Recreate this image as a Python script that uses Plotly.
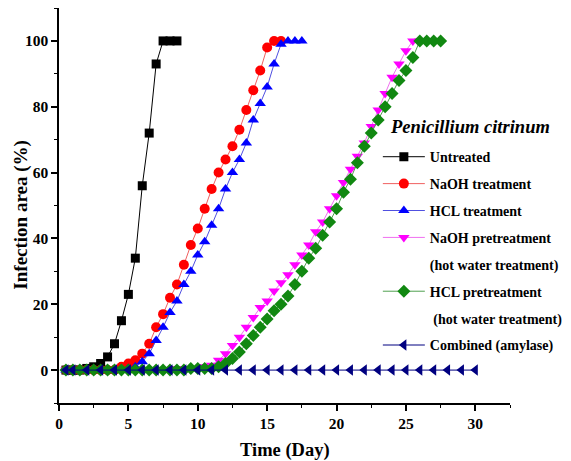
import plotly.graph_objects as go

# ---- data ----
untreated_x = [0.5, 1, 1.5, 2, 2.5, 3, 3.5, 4, 4.5, 5, 5.5, 6, 6.5, 7, 7.5, 8, 8.5]
untreated_y = [0, 0, 0, 0.5, 1, 2, 4, 8, 15, 23, 34, 56, 72, 93, 100, 100, 100]

naoh_x = [0.5, 1, 1.5, 2, 2.5, 3, 3.5, 4, 4.5, 5, 5.5, 6, 6.5, 7, 7.5, 8, 8.5, 9, 9.5, 10,
          10.5, 11, 11.5, 12, 12.5, 13, 13.5, 14, 14.5, 15, 15.5, 16]
naoh_y = [0, 0, 0, 0, 0, 0, 0, 0, 1, 2, 3, 5, 8, 13, 17, 22, 26, 32, 38, 43,
          49, 55, 60, 64, 68, 73, 79, 85, 91, 98, 100, 100]

hcl_x = [0.5, 1, 1.5, 2, 2.5, 3, 3.5, 4, 4.5, 5, 5.5, 6, 6.5, 7, 7.5, 8, 8.5, 9, 9.5, 10,
         10.5, 11, 11.5, 12, 12.5, 13, 13.5, 14, 14.5, 15, 15.5, 16, 16.5, 17, 17.5]
hcl_y = [0, 0, 0, 0, 0, 0, 0, 0, 0, 0.5, 1, 2.5, 5, 9, 13, 17.5, 21, 26, 30, 35,
         39, 44, 49, 55, 60, 64, 69, 76, 81, 86, 93, 99, 100, 100, 100]

naoh_pre_x = [0.5, 1, 1.5, 2, 2.5, 3, 3.5, 4, 4.5, 5, 5.5, 6, 6.5, 7, 7.5, 8, 8.5, 9, 9.5, 10,
              10.5, 11, 11.5, 12, 12.5, 13, 13.5, 14, 14.5, 15, 15.5, 16, 16.5, 17, 17.5, 18,
              18.5, 19, 19.5, 20, 20.5, 21, 21.5, 22, 22.5, 23, 23.5, 24, 24.5, 25, 25.5, 26]
naoh_pre_y = [0, 0, 0, 0, 0, 0, 0, 0, 0, 0, 0, 0, 0, 0, 0, 0, 0.5, 0.5, 0.5, 0.5,
              1, 1.5, 3, 5, 7.5, 10, 13, 16, 19, 21, 24, 26.5, 29, 32, 35, 38,
              42, 45, 49, 53, 57, 61, 65, 69, 74, 79, 84, 89, 93, 97, 100, 100]

hcl_pre_x = [0.5, 1, 1.5, 2, 2.5, 3, 3.5, 4, 4.5, 5, 5.5, 6, 6.5, 7, 7.5, 8, 8.5, 9, 9.5, 10,
             10.5, 11, 11.5, 12, 12.5, 13, 13.5, 14, 14.5, 15, 15.5, 16, 16.5, 17, 17.5, 18,
             18.5, 19, 19.5, 20, 20.5, 21, 21.5, 22, 22.5, 23, 23.5, 24, 24.5, 25, 25.5, 26,
             26.5, 27, 27.5]
hcl_pre_y = [0, 0, 0, 0, 0, 0, 0, 0, 0, 0, 0, 0, 0, 0, 0, 0, 0, 0, 0.5, 0.5,
             0.5, 0.5, 1, 2, 3.5, 5.5, 8, 10.5, 13, 15.5, 18, 20, 22.5, 26, 30, 34,
             37, 41, 45, 49, 54, 58, 63, 68, 72, 76, 80, 84, 88, 91, 95, 100,
             100, 100, 100]

combined_x = [0.5, 1, 2, 3, 4, 5, 6, 7, 8, 9, 10, 11, 12, 13, 14, 15, 16, 17, 18, 19, 20,
              21, 22, 23, 24, 25, 26, 27, 28, 29, 30]
combined_y = [0] * len(combined_x)

x_ticks = [0, 5, 10, 15, 20, 25, 30]
y_ticks = [0, 20, 40, 60, 80, 100]

FONT = "Liberation Serif"

fig = go.Figure()
_group = [0]

def add(name, x, y, color, symbol, size, linecolor=None):
    _group[0] += 1
    fig.add_trace(go.Scatter(
        x=x, y=y, name=f"<b>{name}</b>", mode="lines+markers",
        legendgroup=f"g{_group[0]}",
        line=dict(color=linecolor or color, width=1),
        marker=dict(color=color, symbol=symbol, size=size, line=dict(width=0)),
    ))

def dummy(name):
    _group[0] += 1
    fig.add_trace(go.Scatter(
        x=[None], y=[None], name=f"<b>{name}</b>", mode="lines",
        legendgroup=f"g{_group[0]}",
        line=dict(color="rgba(0,0,0,0)", width=1), hoverinfo="skip",
    ))

add("Untreated", untreated_x, untreated_y, "#000000", "square", 9)
add("NaOH treatment", naoh_x, naoh_y, "#ff0000", "circle", 10, "#f06060")
add("HCL treatment", hcl_x, hcl_y, "#0000ff", "triangle-up", 10, "#5050e0")
add("NaOH pretreatment", naoh_pre_x, naoh_pre_y, "#ff00ff", "triangle-down", 10, "#f070f0")
dummy("(hot water treatment)")
add("HCL pretreatment", hcl_pre_x, hcl_pre_y, "#118811", "diamond", 10, "#50a050")
dummy(" (hot water treatment)")
add("Combined (amylase)", combined_x, combined_y, "#000080", "triangle-left", 10)

fig.update_layout(
    width=563, height=453,
    margin=dict(l=51, r=61, t=0, b=58),
    paper_bgcolor="white", plot_bgcolor="white",
    font=dict(family=FONT, size=14, color="#000000"),
    showlegend=True,
    legend=dict(
        x=0.707, y=0.663, xanchor="left", yanchor="top",
        bgcolor="rgba(0,0,0,0)",
        font=dict(family=FONT, size=14),
        tracegroupgap=5.7,
        itemwidth=42,
        itemclick=False,
    ),
    annotations=[
        dict(text="<b><i>Penicillium citrinum</i></b>",
             xref="paper", yref="paper", x=0.729, y=0.699,
             xanchor="left", yanchor="middle", showarrow=False,
             font=dict(family=FONT, size=18.5)),
        dict(text="<b>Infection area (%)</b>", textangle=-90,
             xref="paper", yref="paper", x=-0.085, y=0.476,
             xanchor="center", yanchor="middle", showarrow=False,
             font=dict(family=FONT, size=19)),
        dict(text="<b>Time (Day)</b>",
             xref="paper", yref="paper", x=0.501, y=-0.119,
             xanchor="center", yanchor="middle", showarrow=False,
             font=dict(family=FONT, size=18.5)),
    ],
    xaxis=dict(
        range=[0, 32.5], tickvals=x_ticks,
        ticktext=[f"<b>{v}</b>" for v in x_ticks],
        automargin=False,
        showgrid=False, zeroline=False, showline=True, linecolor="black", linewidth=1.5,
        ticks="outside", ticklen=6, tickwidth=1.5, tickcolor="black",
        minor=dict(ticks="outside", ticklen=3, dtick=2.5, tick0=0, tickcolor="black", tickwidth=1),
        tickfont=dict(family=FONT, size=15.5),
    ),
    yaxis=dict(
        range=[-10, 110], tickvals=y_ticks,
        ticktext=[f"<b>{v}</b>" for v in y_ticks],
        automargin=False,
        showgrid=False, zeroline=False, showline=True, linecolor="black", linewidth=1.5,
        ticks="outside", ticklen=6, tickwidth=1.5, tickcolor="black",
        minor=dict(ticks="outside", ticklen=3, dtick=10, tick0=0, tickcolor="black", tickwidth=1),
        tickfont=dict(family=FONT, size=15.5),
    ),
)

fig.write_html("out.html")
